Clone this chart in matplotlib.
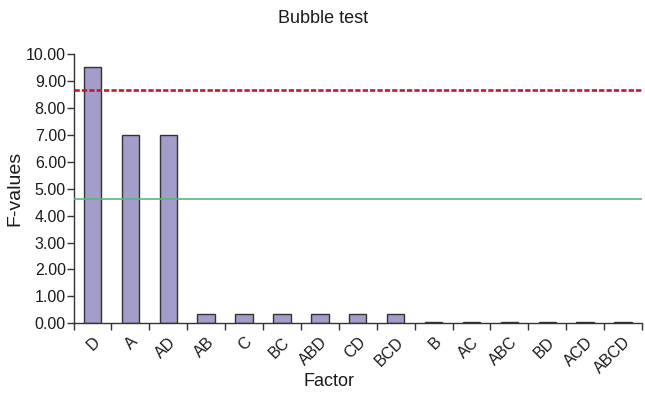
import matplotlib
matplotlib.use("Agg")
import matplotlib.pyplot as plt
import matplotlib.transforms as mtransforms
import numpy as np

plt.rcParams['font.family'] = ['Liberation Sans', 'DejaVu Sans']

factors = ["D", "A", "AD", "AB", "C", "BC", "ABD", "CD", "BCD", "B", "AC", "ABC", "BD", "ACD", "ABCD"]
f_values = [9.50, 7.00, 7.00, 0.36, 0.36, 0.36, 0.36, 0.36, 0.36, 0.03, 0.03, 0.03, 0.03, 0.03, 0.03]
red_line = 8.67
green_line = 4.60
yticks = [0, 1, 2, 3, 4, 5, 6, 7, 8, 9, 10]

fig = plt.figure(figsize=(6.45, 3.95), dpi=100)
ax = fig.add_axes([0.114, 0.1815, 0.8814, 0.6818])

x = np.arange(len(factors))
ax.bar(x, f_values, width=0.46, color="#A39DC9", edgecolor="#333333", linewidth=1.0, zorder=2)
ax.axhline(red_line, color="#CC1530", linestyle=(0, (2.0, 0.8)), linewidth=1.9, zorder=3)
ax.axhline(green_line, color="#5DB57B", linewidth=1.2, zorder=3)

ax.set_xlim(-0.5, len(factors) - 0.5)
ax.set_ylim(0, 10)
ax.set_yticks(yticks)
ax.set_yticklabels([f"{v:.2f}" for v in yticks], fontsize=11.5, color="#1a1a1a")
ax.set_xticks(x)
ax.set_xticklabels(factors, rotation=45, ha="right", rotation_mode="anchor", fontsize=11.5, color="#1a1a1a")
offset = mtransforms.ScaledTranslation(-8 / 100, 0, fig.dpi_scale_trans)
for lbl in ax.get_xticklabels():
    lbl.set_transform(lbl.get_transform() + offset)
ax.set_xticks(np.arange(-0.5, len(factors) + 0.5, 1), minor=True)
ax.tick_params(axis="x", which="major", length=0, pad=8)
ax.tick_params(axis="x", which="minor", length=5, width=1, color="#333333", direction="out")
ax.tick_params(axis="y", length=5, width=1, color="#333333", direction="out", pad=0.5)

for s in ["top", "right"]:
    ax.spines[s].set_visible(False)
for s in ["left", "bottom"]:
    ax.spines[s].set_color("#333333")
    ax.spines[s].set_linewidth(1.0)

ax.set_ylabel("F-values", fontsize=14, color="#1a1a1a", labelpad=2)
fig.text(329 / 645, 1 - 382 / 395, "Factor", ha="center", va="center", fontsize=13, color="#1a1a1a")
fig.text(323.5 / 645, 1 - 18.5 / 395, "Bubble test", ha="center", va="center", fontsize=13, color="#1a1a1a")

fig.savefig("out.png", dpi=100)
